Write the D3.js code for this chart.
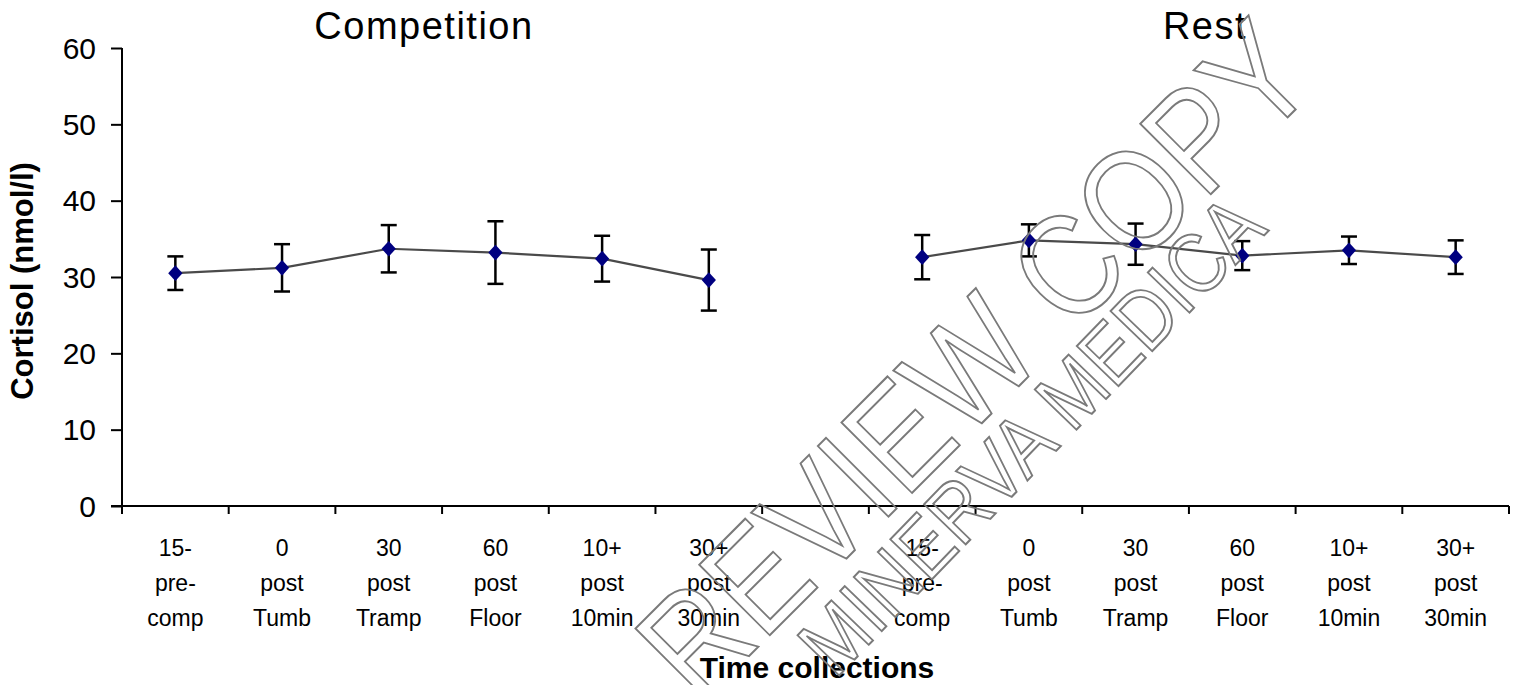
<!DOCTYPE html>
<html>
<head>
<meta charset="utf-8">
<script src="https://cdn.jsdelivr.net/npm/d3@7"></script>
<style>
  body { margin: 0; background: #fff; }
  svg { display: block; }
</style>
</head>
<body>
<div id="chart"></div>
<script>
// ---------- data ----------
const groups = ['Competition', 'Rest'];
const tickLabels = [
  ['15-', 'pre-', 'comp'],
  ['0', 'post', 'Tumb'],
  ['30', 'post', 'Tramp'],
  ['60', 'post', 'Floor'],
  ['10+', 'post', '10min'],
  ['30+', 'post', '30min']
];
const competitionMean = [30.5, 31.2, 33.7, 33.2, 32.4, 29.6];
const competitionErr  = [2.2, 3.1, 3.1, 4.1, 3.0, 4.0];
const restMean = [32.6, 34.8, 34.3, 32.8, 33.5, 32.6];
const restErr  = [2.9, 2.1, 2.7, 1.9, 1.8, 2.2];
const yTicks = [0, 10, 20, 30, 40, 50, 60];

const width = 1516, height = 685;
const margin = { top: 48, right: 7, bottom: 179, left: 122 };

const svg = d3.select('#chart').append('svg')
  .attr('width', width)
  .attr('height', height);

// 13 slots: 6 competition, 1 empty, 6 rest
const keys = [];
tickLabels.forEach((d, i) => keys.push('c' + i));
keys.push('gap');
tickLabels.forEach((d, i) => keys.push('r' + i));

const x = d3.scaleBand().domain(keys).range([margin.left, width - margin.right]);
const y = d3.scaleLinear().domain([0, 60]).range([height - margin.bottom, margin.top]);

const font = '"Liberation Sans", Arial, sans-serif';

/* ---------- axes ---------- */
const yAxis = svg.append('g')
  .attr('transform', 'translate(' + margin.left + ',0)')
  .call(d3.axisLeft(y).tickValues(yTicks).tickSize(11).tickPadding(15));
yAxis.select('.domain').attr('stroke', '#000').attr('stroke-width', 2)
  .attr('d', 'M0,' + y(60) + 'V' + (y(0) + 8));
yAxis.selectAll('.tick line').attr('stroke', '#000').attr('stroke-width', 2);
yAxis.selectAll('.tick text')
  .attr('font-family', font).attr('font-size', 30).attr('fill', '#000')
  .attr('dy', '0.34em');

const boundaries = keys.map(k => x(k)).concat([width - margin.right]);
const xAxis = svg.append('g');
xAxis.append('line')
  .attr('x1', margin.left - 11).attr('x2', width - margin.right)
  .attr('y1', y(0)).attr('y2', y(0))
  .attr('stroke', '#000').attr('stroke-width', 2);
xAxis.selectAll('.xtick').data(boundaries).join('line')
  .attr('class', 'xtick')
  .attr('x1', d => d).attr('x2', d => d)
  .attr('y1', y(0)).attr('y2', y(0) + 8)
  .attr('stroke', '#000').attr('stroke-width', 2);

// multi-line category labels
keys.filter(k => k !== 'gap').forEach(k => {
  const lines = tickLabels[+k.slice(1)];
  const t = svg.append('text')
    .attr('text-anchor', 'middle')
    .attr('font-family', font)
    .attr('font-size', 23)
    .attr('fill', '#000');
  lines.forEach((s, j) => {
    t.append('tspan')
      .attr('x', x(k) + x.bandwidth() / 2)
      .attr('y', 556 + j * 35)
      .text(s);
  });
});

/* ---------- titles ---------- */
svg.append('text')
  .attr('x', 424).attr('y', 39)
  .attr('text-anchor', 'middle')
  .attr('font-family', font)
  .attr('font-size', 38)
  .attr('letter-spacing', 1.5)
  .text(groups[0]);
svg.append('text')
  .attr('x', 1205).attr('y', 39)
  .attr('text-anchor', 'middle')
  .attr('font-family', font)
  .attr('font-size', 38)
  .attr('letter-spacing', 1.5)
  .text(groups[1]);

svg.append('text')
  .attr('transform', 'translate(33,281) rotate(-90)')
  .attr('text-anchor', 'middle')
  .attr('font-family', font)
  .attr('font-weight', 'bold')
  .attr('font-size', 31)
  .text('Cortisol (nmol/l)');

svg.append('text')
  .attr('x', 817).attr('y', 678)
  .attr('text-anchor', 'middle')
  .attr('font-family', font)
  .attr('font-weight', 'bold')
  .attr('font-size', 30)
  .text('Time collections');

/* ---------- series ---------- */
const line = d3.line().x(d => d.x).y(d => y(d.v));

function drawSeries(prefix, means, errs) {
  const pts = means.map((v, i) => ({
    x: x(prefix + i) + x.bandwidth() / 2, v: v, e: errs[i]
  }));
  svg.append('path')
    .datum(pts)
    .attr('d', line)
    .attr('fill', 'none')
    .attr('stroke', '#4a4a4a')
    .attr('stroke-width', 2.2);

  const eb = svg.append('g').attr('stroke', '#000').attr('stroke-width', 2.5);
  pts.forEach(p => {
    eb.append('line').attr('x1', p.x).attr('x2', p.x)
      .attr('y1', y(p.v + p.e)).attr('y2', y(p.v - p.e));
    eb.append('line').attr('x1', p.x - 8).attr('x2', p.x + 8)
      .attr('y1', y(p.v + p.e)).attr('y2', y(p.v + p.e));
    eb.append('line').attr('x1', p.x - 8).attr('x2', p.x + 8)
      .attr('y1', y(p.v - p.e)).attr('y2', y(p.v - p.e));
  });

  svg.append('g').selectAll('path')
    .data(pts).join('path')
    .attr('d', d3.symbol(d3.symbolDiamond2, 130))
    .attr('transform', d => 'translate(' + d.x + ',' + y(d.v) + ') scale(1,1.1)')
    .attr('fill', '#000080');
}

drawSeries('c', competitionMean, competitionErr);
drawSeries('r', restMean, restErr);

/* ---------- watermark ---------- */
const wm = svg.append('g')
  .attr('fill', 'none')
  .attr('stroke', '#7a7a7a')
  .attr('stroke-width', 2)
  .attr('font-family', font);
wm.append('text')
  .attr('transform', 'translate(1010,395) rotate(-45)')
  .attr('text-anchor', 'middle')
  .attr('font-size', 145)
  .attr('textLength', 880)
  .attr('lengthAdjust', 'spacingAndGlyphs')
  .text('REVIEW COPY');
wm.append('text')
  .attr('transform', 'translate(1052,455) rotate(-46)')
  .attr('text-anchor', 'middle')
  .attr('font-size', 84)
  .attr('textLength', 625)
  .attr('lengthAdjust', 'spacingAndGlyphs')
  .text('MINERVA MEDICA');
</script>
</body>
</html>
